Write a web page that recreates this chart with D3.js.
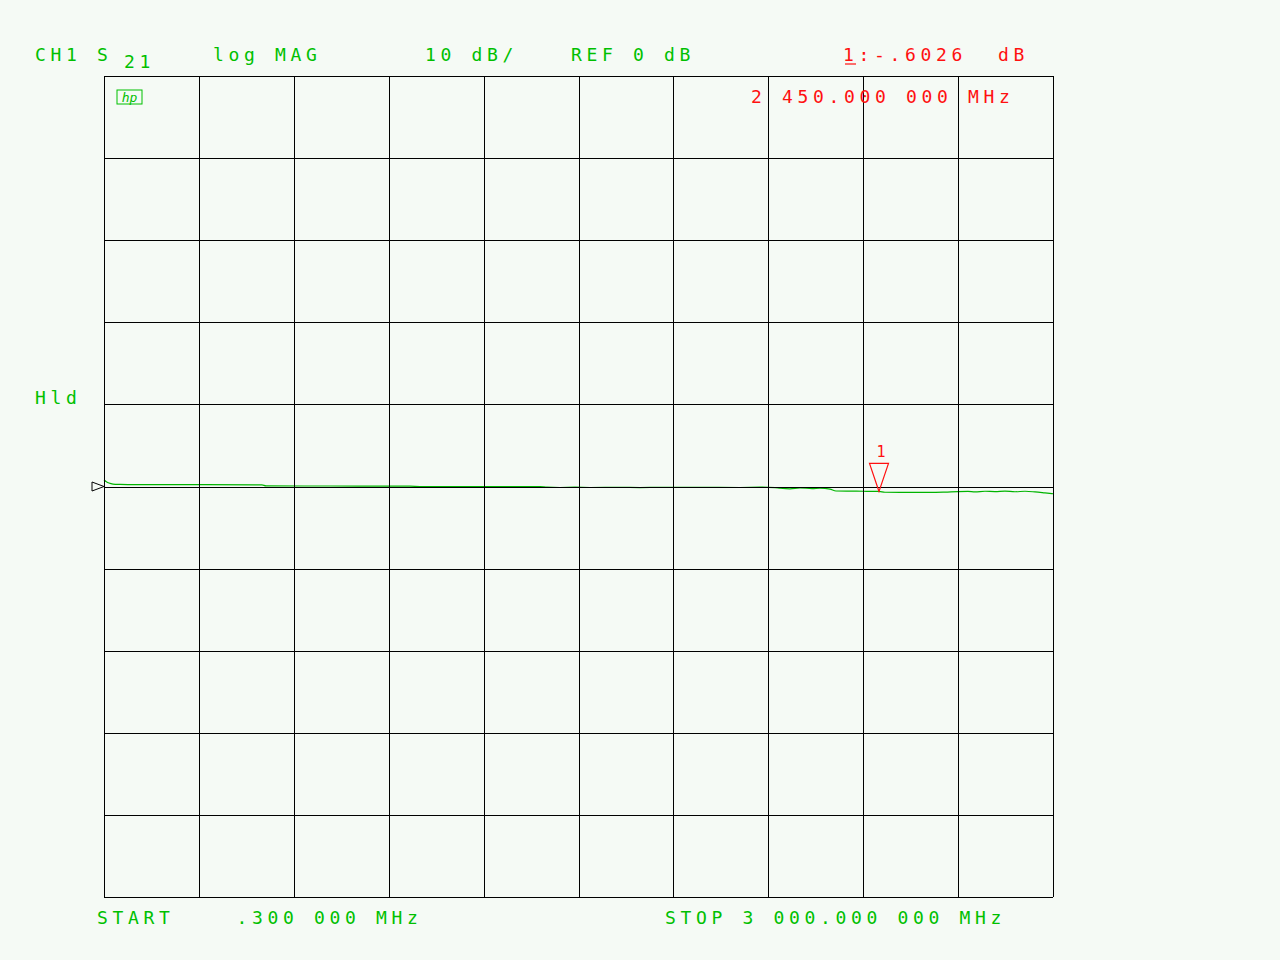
<!DOCTYPE html>
<html>
<head>
<meta charset="utf-8">
<script src="https://cdn.jsdelivr.net/npm/d3@7"></script>
<style>
  html, body { margin: 0; padding: 0; background: #f5faf5; }
  svg { display: block; }
  text { white-space: pre; font-family: "DejaVu Sans Mono", monospace; }
</style>
</head>
<body>
<svg id="chart" width="1280" height="960"></svg>
<script>
// ---------------- data ----------------
const startMHz = 0.3;
const stopMHz = 3000;
const refDb = 0;
const dbPerDiv = 10;
const divisions = 10;

// trace: frequency (MHz) and S21 magnitude (dB)
const traceFreq = [0.3, 6.6, 16.1, 28.7, 50.9, 76.2, 303.7, 499.7, 512.3, 714.7,
  967.5, 999.1, 1378.4, 1400.6, 1441.7, 1489.1, 1536.5, 1631.3, 1694.5, 1757.8,
  1884.2, 2010.6, 2073.9, 2121.3, 2137.1, 2168.7, 2200.3, 2238.3, 2263.5, 2295.2,
  2314.1, 2358.4, 2399.5, 2450.0, 2468.9, 2516.3, 2611.1, 2658.6, 2699.7, 2731.3,
  2753.4, 2785.0, 2816.6, 2848.2, 2879.9, 2911.5, 2943.1, 2974.7, 3000.0];
const traceDb = [0.80, 0.62, 0.42, 0.30, 0.26, 0.24, 0.22, 0.20, 0.07, 0.06,
  0.04, 0.00, 0.00, -0.08, -0.12, -0.08, -0.12, -0.10, -0.13, -0.09,
  -0.11, -0.12, -0.08, -0.13, -0.20, -0.28, -0.18, -0.25, -0.20, -0.32,
  -0.55, -0.57, -0.58, -0.6026, -0.70, -0.72, -0.72, -0.68, -0.62, -0.60,
  -0.66, -0.58, -0.62, -0.56, -0.64, -0.58, -0.66, -0.78, -0.88];

const markerFreq = [2450.0];
const markerDb = [-0.6026];
const markerLabels = ["1"];

// annotation texts
const headerTexts = ["CH1 S", "21", "log MAG", "10 dB/", "REF 0 dB"];
const markerReadout = ["1", ":-.6026  dB"];
const markerFreqText = "2 450.000 000 MHz";
const holdText = "Hld";
const startText = "START    .300 000 MHz";
const stopText = "STOP 3 000.000 000 MHz";

// ---------------- layout ----------------
const plot = { left: 104, right: 1053, top: 76, bottom: 897 };
const bg = "#f5faf5";
const green = "#00c000";
const traceGreen = "#00b400";
const red = "#ff1010";
const fontSize = 18;
const letterSp = 4.66;

const svg = d3.select("#chart");
svg.append("rect").attr("width", 1280).attr("height", 960).attr("fill", bg);

const x = d3.scaleLinear().domain([startMHz, stopMHz]).range([plot.left, plot.right]);
const y = d3.scaleLinear()
  .domain([refDb - dbPerDiv * divisions / 2, refDb + dbPerDiv * divisions / 2])
  .range([plot.bottom, plot.top]);

// trace (drawn beneath grid)
const trace = traceFreq.map((f, i) => ({ f, db: traceDb[i] }));
svg.append("path")
  .datum(trace)
  .attr("fill", "none")
  .attr("stroke", traceGreen)
  .attr("stroke-width", 1.2)
  .attr("d", d3.line().x(d => x(d.f)).y(d => y(d.db)).curve(d3.curveMonotoneX));

// grid via axes
const xGrid = d3.range(divisions + 1).map(i => startMHz + i * (stopMHz - startMHz) / divisions);
const yGrid = d3.range(divisions + 1).map(i => y.domain()[0] + i * dbPerDiv);

const gx = svg.append("g")
  .attr("transform", `translate(0,${plot.bottom})`)
  .call(d3.axisBottom(x).tickValues(xGrid).tickSize(-(plot.bottom - plot.top)).tickFormat("").tickSizeOuter(0));
const gy = svg.append("g")
  .attr("transform", `translate(${plot.left},0)`)
  .call(d3.axisLeft(y).tickValues(yGrid).tickSize(-(plot.right - plot.left)).tickFormat("").tickSizeOuter(0));
[gx, gy].forEach(g => {
  g.select(".domain").remove();
  g.selectAll("line").attr("stroke", "#000").attr("stroke-width", 1).attr("shape-rendering", "crispEdges");
});

// reference level triangle
const ry = y(refDb);
svg.append("path")
  .attr("d", `M${plot.left - 12},${ry - 4.5} L${plot.left},${ry} L${plot.left - 12},${ry + 4.5} Z`)
  .attr("fill", "none").attr("stroke", "#000").attr("stroke-width", 1);

// marker
markerFreq.forEach((f, i) => {
  const mx = x(f), my = y(markerDb[i]);
  svg.append("path")
    .attr("d", `M${mx},${my} L${mx - 9.5},${my - 28} L${mx + 9.5},${my - 28} Z`)
    .attr("fill", "none").attr("stroke", red).attr("stroke-width", 1.2);
  svg.append("text").attr("x", mx + 2).attr("y", my - 34)
    .attr("text-anchor", "middle").attr("fill", red)
    .attr("font-size", 15).text(markerLabels[i]);
});

function label(str, px, py, color) {
  return svg.append("text")
    .attr("x", px).attr("y", py)
    .attr("fill", color)
    .attr("font-size", fontSize)
    .attr("letter-spacing", letterSp)
    .text(str);
}

// header
label(headerTexts[0], 35, 61, green);
label(headerTexts[1], 124, 68, green);
label(headerTexts[2], 213, 61, green);
label(headerTexts[3], 425, 61, green);
label(headerTexts[4], 571, 61, green);
label(markerReadout[0], 843, 61, red);
svg.append("line").attr("x1", 845).attr("x2", 856).attr("y1", 64).attr("y2", 64)
  .attr("stroke", red).attr("stroke-width", 1.2);
label(markerReadout[1], 843 + 15.5, 61, red);
label(markerFreqText, 751, 103, red);

// hold
label(holdText, 35, 404, green);

// start / stop
label(startText, 97, 924, green);
label(stopText, 665, 924, green);

// hp logo
const logo = svg.append("g").attr("transform", "translate(117,90)");
logo.append("rect").attr("width", 25).attr("height", 14)
  .attr("fill", "none").attr("stroke", green).attr("stroke-width", 1);
logo.append("text").attr("x", 12.5).attr("y", 11.5).attr("text-anchor", "middle")
  .attr("font-family", "DejaVu Sans").attr("font-style", "italic")
  .attr("font-size", 13).attr("fill", green).text("hp");
</script>
</body>
</html>
